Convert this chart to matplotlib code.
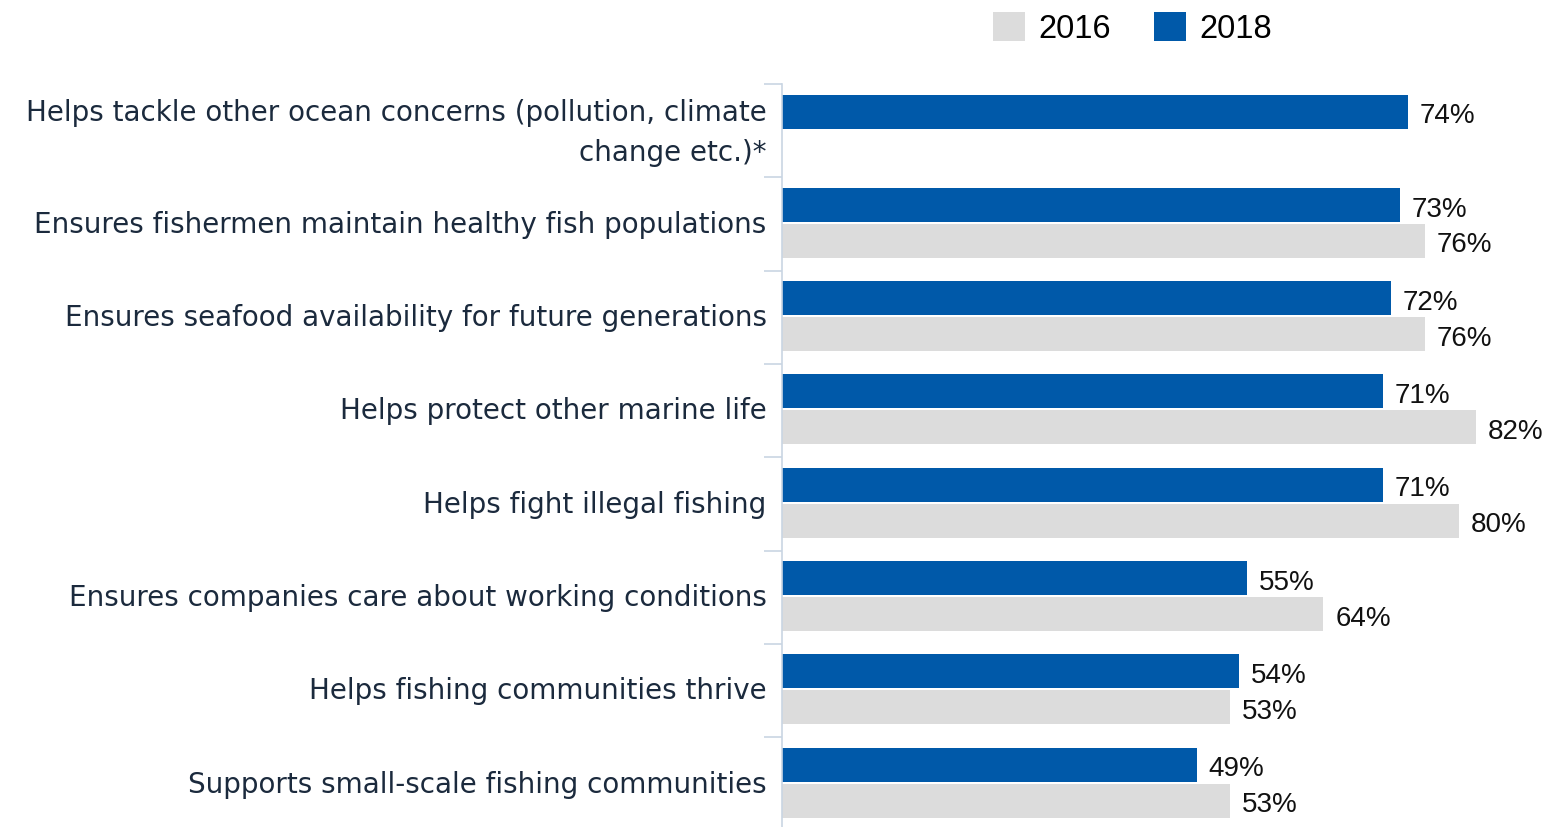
import numpy as np
import matplotlib.pyplot as plt
import matplotlib.transforms as mtransforms
from matplotlib.patches import Patch

# ── Data ─────────────────────────────────────────────────────
categories = [
    'Helps tackle other ocean concerns (pollution, climate\nchange etc.)*',
    'Ensures fishermen maintain healthy fish populations',
    'Ensures seafood availability for future generations',
    'Helps protect other marine life',
    'Helps fight illegal fishing',
    'Ensures companies care about working conditions',
    'Helps fishing communities thrive',
    'Supports small-scale fishing communities',
]
values_2018 = [74, 73, 72, 71, 71, 55, 54, 49]
values_2016 = [None, 76, 76, 82, 80, 64, 53, 53]

BLUE = '#0059A9'
GREY = '#DCDCDC'
SPINE = '#C9D5E3'

plt.rcParams['font.family'] = ['Liberation Sans', 'DejaVu Sans']

fig = plt.figure(figsize=(15.47, 8.27), dpi=100)
ax = fig.add_axes([782 / 1547, -0.0041, 1 - 782 / 1547, 0.9025])

y = np.arange(len(categories))
h = 0.365
off_blue, off_grey = -0.205, 0.18

ax.barh(y + off_blue, values_2018, height=h, color=BLUE, edgecolor='none')
for yi, v in zip(y, values_2018):
    ax.text(v + 1.4, yi + off_blue + 0.05, f'{v}%', va='center', ha='left',
            fontsize=20, color='#111111')

for yi, v in zip(y, values_2016):
    if v is None:
        continue
    ax.barh(yi + off_grey, v, height=h, color=GREY, edgecolor='none')
    ax.text(v + 1.4, yi + off_grey + 0.05, f'{v}%', va='center', ha='left',
            fontsize=20, color='#111111')

ax.set_xlim(0, 765 / 8.46)
ax.set_ylim(len(categories) - 0.5, -0.5)

# ── Category labels (drawn as text so the two-line one centres properly) ──
single_tr = mtransforms.offset_copy(ax.get_yaxis_transform(), fig=fig,
                                    x=-11, y=1.5, units='points')
multi_tr = mtransforms.offset_copy(ax.get_yaxis_transform(), fig=fig,
                                   x=-11, y=-1.5, units='points')
for yi, name in zip(y, categories):
    multi = '\n' in name
    ax.text(0, yi, name, transform=multi_tr if multi else single_tr,
            ha='right', va='center' if multi else 'center_baseline',
            fontsize=20, color='#1B2A3D', family='DejaVu Sans',
            linespacing=1.55)

# ── Axis styling ─────────────────────────────────────────────
ax.set_yticks([])
ax.set_yticks(np.arange(len(categories) + 1) - 0.5, minor=True)
ax.tick_params(axis='y', which='minor', length=13, width=1.2, color=SPINE,
               direction='out')
ax.xaxis.set_visible(False)
for side in ['top', 'right', 'bottom']:
    ax.spines[side].set_visible(False)
ax.spines['left'].set_color(SPINE)
ax.spines['left'].set_linewidth(1.2)

# ── Legend ───────────────────────────────────────────────────
handles = [Patch(facecolor=GREY, edgecolor='none', label='2016'),
           Patch(facecolor=BLUE, edgecolor='none', label='2018')]
fig.legend(handles=handles, loc='upper left', bbox_to_anchor=(993 / 1547, 0.985),
           ncol=2, frameon=False, fontsize=23.5, handlelength=0.98,
           handleheight=0.98, handletextpad=0.42, columnspacing=1.3,
           borderpad=0, borderaxespad=0)

fig.savefig('out.png', dpi=100)
